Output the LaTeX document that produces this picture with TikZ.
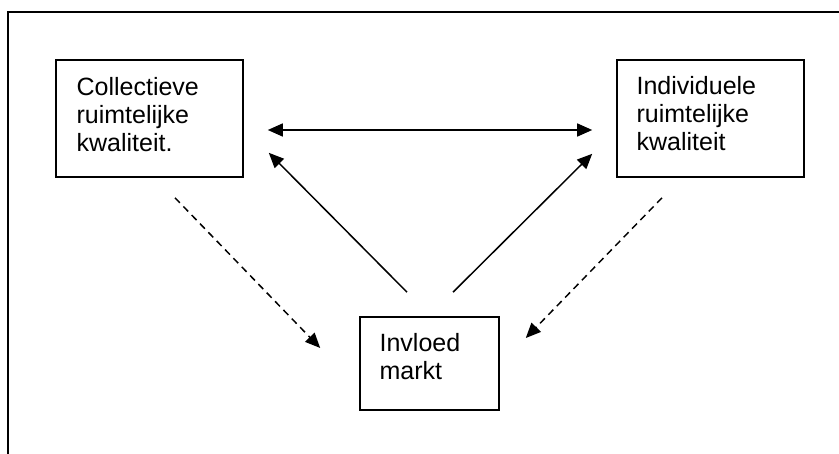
\documentclass[tikz,border=0pt]{standalone}
\usepackage{fontspec}
\setmainfont{Liberation Sans}
\usetikzlibrary{arrows.meta}

\tikzset{
  box/.style={draw, line width=0.8pt, rectangle, inner sep=0pt},
  boxtext/.style={anchor=base west, inner sep=0pt,
    font=\fontsize{12.5}{14}\selectfont},
  link/.style={line width=0.75pt, -{Triangle[length=7.5pt,width=6.5pt]}},
  dlink/.style={link, dash pattern=on 3.5pt off 2.5pt},
  frameline/.style={line width=1pt}
}

\newcommand{\lines}[1]{\begin{tabular}[t]{@{}l@{}}#1\end{tabular}}

\begin{document}
\begin{tikzpicture}[x=1pt,y=1pt]
  \useasboundingbox (0,0) rectangle (419.5,-227);

  % open frame: top and left edges only
  \draw[frameline] (419.5,-6) -- (4,-6) -- (4,-227);

  % boxes
  \node[box, minimum width=93.5pt, minimum height=58.5pt] (cbox) at (74.75,-59.25) {};
  \node[box, minimum width=93.5pt, minimum height=58.5pt] (ibox) at (355.25,-59.25) {};
  \node[box, minimum width=69.5pt, minimum height=46.5pt] (mbox) at (214.75,-181.75) {};

  % box texts
  \node[boxtext] (ctext) at ([xshift=10.5pt,yshift=-18pt]cbox.north west)
    {\lines{Collectieve\\ruimtelijke\\kwaliteit.}};
  \node[boxtext] (itext) at ([xshift=10pt,yshift=-17.5pt]ibox.north west)
    {\lines{Individuele\\ruimtelijke\\kwaliteit}};
  \node[boxtext] (mtext) at ([xshift=10pt,yshift=-17.5pt]mbox.north west)
    {\lines{Invloed\\markt}};

  % connectors
  \draw[link, {Triangle[length=7.5pt,width=6.5pt]}-{Triangle[length=7.5pt,width=6.5pt]}]
    ([xshift=12pt,yshift=-5.75pt]cbox.east) -- ([xshift=-12pt,yshift=-5.75pt]ibox.west);
  \draw[link] ([xshift=-11.25pt,yshift=12pt]mbox.north) -- ([xshift=12.5pt,yshift=12.5pt]cbox.south east);
  \draw[link] ([xshift=11.75pt,yshift=12pt]mbox.north) -- ([xshift=-12pt,yshift=12pt]ibox.south west);
  \draw[dlink] ([xshift=12.75pt,yshift=-10pt]cbox.south) -- ([xshift=-19.5pt,yshift=7.75pt]mbox.west);
  \draw[dlink] ([xshift=-24.25pt,yshift=-10pt]ibox.south) -- ([xshift=13pt,yshift=12.75pt]mbox.east);
\end{tikzpicture}
\end{document}
